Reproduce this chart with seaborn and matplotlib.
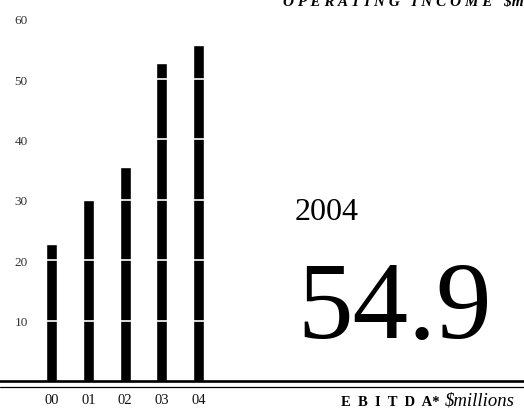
import matplotlib
matplotlib.use("Agg")
import matplotlib.pyplot as plt
from matplotlib.lines import Line2D
import seaborn as sns

# 数据
years = ['00', '01', '02', '03', '04']
ebitda = [22.7, 30.0, 35.4, 52.6, 55.7]
y_ticks = [10, 20, 30, 40, 50, 60]
headline_year = '2004'
headline_value = '54.9'

sns.set_style('white')
plt.rcParams['font.family'] = ['Liberation Serif', 'DejaVu Serif']
plt.rcParams['text.color'] = 'black'

W, H = 524, 414
fig = plt.figure(figsize=(W / 100, H / 100), dpi=100)

# 轴: 0 在 y=382px, 60 在 y=19.6px
y0, y60 = 382, 19.6
ax = fig.add_axes([0, (H - y0) / H, 1, (y0 - y60) / H])

sns.barplot(x=years, y=ebitda, color='black', width=0.30, saturation=1, ax=ax)

ax.set_xlim(-51.6 / 36.73, (W - 51.6) / 36.73)
ax.set_ylim(0, 60)
ax.set_yticks(y_ticks)
ax.set_yticklabels([str(t) for t in y_ticks])
ax.set_xlabel('')
ax.set_ylabel('')

# 白色网格线穿过柱子
ax.yaxis.grid(True, color='white', linewidth=1.2)
ax.set_axisbelow(False)

for s in ['top', 'right', 'left']:
    ax.spines[s].set_visible(False)
ax.spines['bottom'].set_linewidth(1.9)
ax.spines['bottom'].set_color('black')

ax.tick_params(axis='y', length=0, pad=-20, labelsize=9.5, labelcolor='#333333')
ax.tick_params(axis='x', length=0, pad=9, labelsize=10.5, labelcolor='#111111')

# 底部第二条细线
fig.add_artist(Line2D([0, 1], [(H - 387.5) / H] * 2, color='black', lw=0.9,
                      transform=fig.transFigure))

# 大数字
fig.text(295 / W, 1 - 220 / H, headline_year, fontsize=23, va='baseline', ha='left',
         color='black')
fig.text(297 / W, 1 - 338 / H, headline_value, fontsize=80, va='baseline', ha='left',
         color='black')

# 底部说明
fig.text(440 / W, 1 - 406 / H, 'E  B  I  T  D  A*', fontsize=10.5, fontweight='bold',
         va='baseline', ha='right', color='black')
fig.text(445 / W, 1 - 406 / H, '$millions', fontsize=13.5, style='italic',
         va='baseline', ha='left', color='black')

# 顶部被裁切的标题
fig.text(283 / W, 1 - 5 / H, 'O P E R A T I N G   I N C O M E   $m', fontsize=11,
         fontweight='bold', style='italic', va='baseline', ha='left', color='black')

fig.savefig('out.png', dpi=100)
